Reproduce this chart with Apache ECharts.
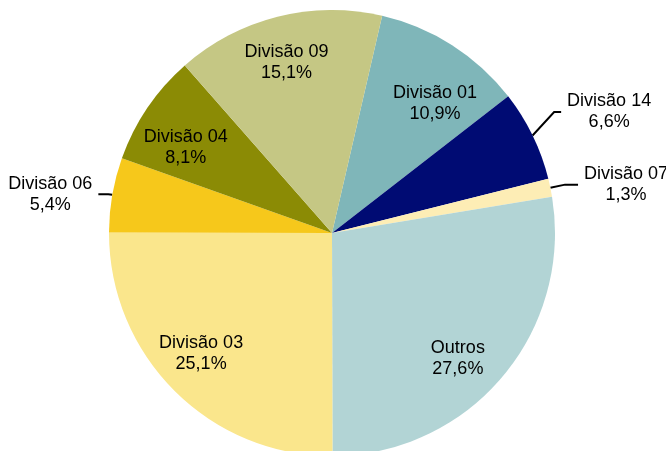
<!DOCTYPE html>
<html>
<head>
<meta charset="utf-8">
<script src="https://cdn.jsdelivr.net/npm/echarts@6/dist/echarts.min.js"></script>
<style>
  html, body { margin: 0; padding: 0; background: #fff; }
  #chart { width: 666px; height: 451px; }
</style>
</head>
<body>
<div id="chart"></div>
<script>
// fatias no sentido horário, a partir da Divisão 01
const categories = ['Divisão 01', 'Divisão 14', 'Divisão 07', 'Outros', 'Divisão 03', 'Divisão 06', 'Divisão 04', 'Divisão 09']
const percentValues = [10.9, 6.6, 1.3, 27.6, 25.1, 5.4, 8.1, 15.1]
const sliceColors = ['#7fb6b9', '#000b73', '#fdedb5', '#b2d4d5', '#fae68c', '#f6c81b', '#8b8b05', '#c5c784']

// rótulos desenhados fora da pizza, com linha de chamada [length, length2]
const outsideLabels = ['Divisão 14', 'Divisão 07', 'Divisão 06']
const lineLength = { 'Divisão 14': [24, 7], 'Divisão 07': [15, 13], 'Divisão 06': [4, 10] }
// pequenos ajustes de posição dos rótulos internos (como no Excel)
const labelNudge = {
  'Divisão 01': [7, 20],
  'Divisão 04': [1, 14],
  'Outros': [-10, 11],
  'Divisão 03': [-5, -5],
  'Divisão 09': [-2, 2],
}

const FONT = 'Arial, "Liberation Sans", sans-serif'
const fmt = (v) => v.toFixed(1).replace('.', ',') + '%'

const myChart = echarts.init(document.getElementById('chart'))

const mainData = categories.map((name, i) => {
  const item = { name, value: percentValues[i], itemStyle: { color: sliceColors[i] } }
  if (outsideLabels.includes(name)) {
    item.label = { show: true }
    item.labelLine = { show: true, length: lineLength[name][0], length2: lineLength[name][1] }
  }
  return item
})

// anel transparente só para posicionar os rótulos internos mais para fora
const ringData = categories.map((name, i) => ({
  name,
  value: percentValues[i],
  label: { show: !outsideLabels.includes(name), offset: labelNudge[name] || [0, 0] },
}))

const option = {
  animation: false,
  series: [
    {
      type: 'pie',
      center: [332, 233],
      radius: 223,
      startAngle: 77,
      clockwise: true,
      avoidLabelOverlap: false,
      silent: true,
      label: {
        show: false,
        position: 'outside',
        distanceToLabelLine: 5,
        formatter: (p) => `{a|${p.name}}\n{a|${fmt(p.value)}}`,
        rich: {
          a: { fontFamily: FONT, fontSize: 18, lineHeight: 21, color: '#000', width: 86, align: 'center' },
        },
      },
      labelLine: {
        show: false,
        lineStyle: { color: '#000', width: 2 },
      },
      // sobe o rótulo da Divisão 14 e dobra a linha junto
      labelLayout: (params) => {
        if (categories[params.dataIndex] !== 'Divisão 14') return
        const shift = -13
        const pts = params.labelLinePoints
        if (!pts || pts.length < 3) return { dy: shift }
        return {
          dy: shift,
          labelLinePoints: [
            [pts[0][0], pts[0][1]],
            [pts[1][0], pts[1][1] + shift],
            [pts[2][0], pts[2][1] + shift],
          ],
        }
      },
      data: mainData,
    },
    {
      type: 'pie',
      center: [332, 233],
      radius: [127, 223],
      startAngle: 77,
      clockwise: true,
      silent: true,
      itemStyle: { color: 'rgba(0,0,0,0)' },
      label: {
        show: false,
        position: 'inside',
        fontFamily: FONT,
        fontSize: 18,
        lineHeight: 21,
        color: '#000',
        align: 'center',
        formatter: (p) => `${p.name}\n${fmt(p.value)}`,
      },
      labelLine: { show: false },
      data: ringData,
    },
  ],
}

myChart.setOption(option)
</script>
</body>
</html>
